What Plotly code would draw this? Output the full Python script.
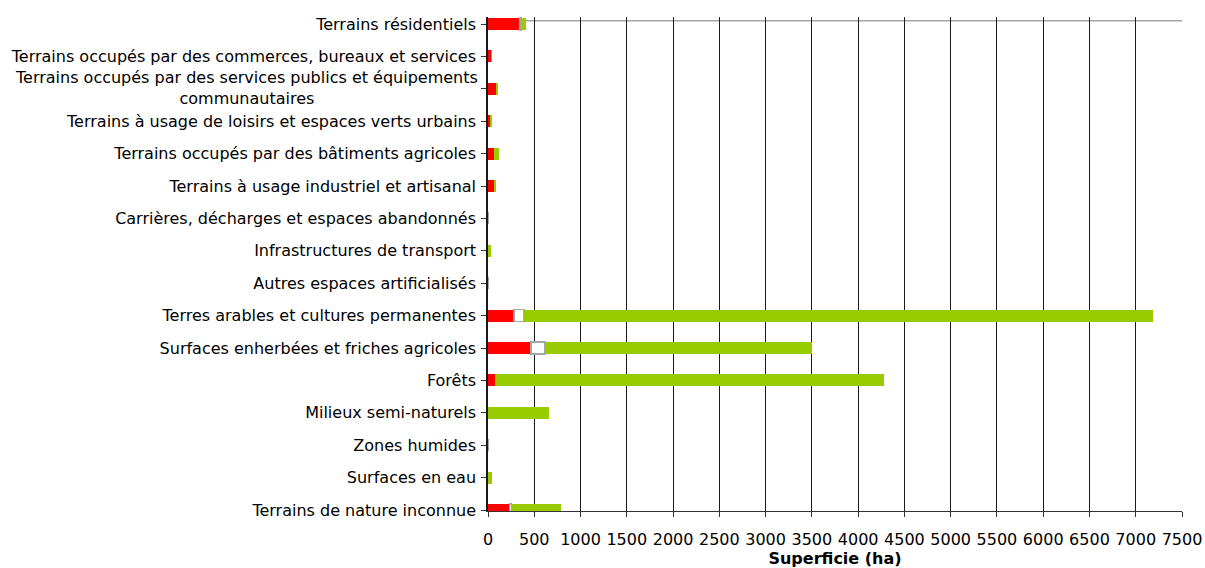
import plotly.graph_objects as go

categories = [
    "Terrains résidentiels",
    "Terrains occupés par des commerces, bureaux et services",
    "Terrains occupés par des services publics et équipements<br>communautaires",
    "Terrains à usage de loisirs et espaces verts urbains",
    "Terrains occupés par des bâtiments agricoles",
    "Terrains à usage industriel et artisanal",
    "Carrières, décharges et espaces abandonnés",
    "Infrastructures de transport",
    "Autres espaces artificialisés",
    "Terres arables et cultures permanentes",
    "Surfaces enherbées et friches agricoles",
    "Forêts",
    "Milieux semi-naturels",
    "Zones humides",
    "Surfaces en eau",
    "Terrains de nature inconnue",
]
red_values = [341, 36, 90, 25, 68, 68, 0, 0, 0, 280, 464, 79, 0, 0, 0, 233]
white_values = [18, 0, 0, 0, 0, 0, 0, 0, 0, 108, 151, 0, 0, 0, 0, 20]
green_values = [54, 0, 22, 22, 54, 22, 0, 30, 0, 6795, 2888, 4202, 662, 0, 46, 540]
x_ticks = list(range(0, 7501, 500))
x_title = "Superficie (ha)"

FONT = "DejaVu Sans"
FS = 16
BW = 0.37

ylabels = [c if "<br>" not in c else "" for c in categories]

fig = go.Figure()
fig.add_trace(go.Bar(y=categories, x=red_values, orientation="h", width=BW,
                     marker=dict(color="#FF0000", line=dict(width=0)), name="r"))
fig.add_trace(go.Bar(y=categories, x=white_values, orientation="h", width=BW,
                     marker=dict(color="#FFFFFF", line=dict(width=1.5, color="#A6A6A6")), name="w"))
fig.add_trace(go.Bar(y=categories, x=green_values, orientation="h", width=BW,
                     marker=dict(color="#99CC00", line=dict(width=0)), name="g"))

for c in categories:
    if "<br>" in c:
        fig.add_annotation(text=c, xref="paper", yref="y", x=0, y=c, xanchor="right",
                           yanchor="middle", xshift=-8, yshift=1, align="center", showarrow=False,
                           font=dict(family=FONT, size=FS, color="#000000"))

# top frame line of plot area
fig.add_shape(type="line", xref="paper", yref="y", x0=0, x1=1, y0=-0.1, y1=-0.1,
              line=dict(color="#A6A6A6", width=1.5), layer="below")

fig.update_layout(
    barmode="stack",
    width=1205, height=568,
    margin=dict(l=488, r=23, t=17, b=57, autoexpand=False),
    paper_bgcolor="white", plot_bgcolor="white",
    showlegend=False,
    font=dict(family=FONT, size=FS, color="#000000"),
    xaxis=dict(range=[0, 7500], tickvals=x_ticks, ticks="outside", ticklen=5,
               tickcolor="#333333", showgrid=True, gridcolor="#1a1a1a", gridwidth=1,
               showline=True, linecolor="#333333", linewidth=1, zeroline=False,
               automargin=False, ticklabelstandoff=9,
               title=dict(text="<b>" + x_title + "</b>", font=dict(family=FONT, size=FS), standoff=2),
               tickfont=dict(family=FONT, size=FS), layer="below traces"),
    yaxis=dict(type="category", categoryorder="array", categoryarray=categories,
               range=[15.03, -0.216], tickvals=categories, ticktext=ylabels,
               ticks="outside", ticklen=5, tickcolor="#333333", ticklabelstandoff=2,
               showline=True, linecolor="#1a1a1a", linewidth=1.5, showgrid=False,
               automargin=False,
               tickfont=dict(family=FONT, size=FS), layer="below traces"),
)

fig.write_html("out.html", config={"displayModeBar": False},
               post_script="document.body.style.margin='0px';document.body.style.overflow='hidden';")
